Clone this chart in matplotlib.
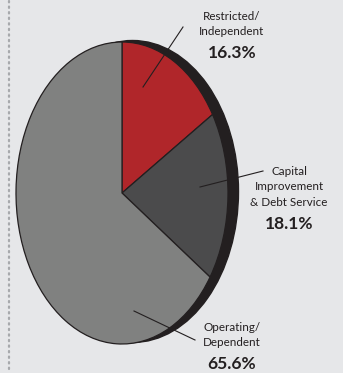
import matplotlib
matplotlib.use('Agg')
import matplotlib.pyplot as plt
from matplotlib.patches import Ellipse

# budget split, clockwise from 12 o'clock
labels = ['Restricted/\nIndependent', 'Capital\nImprovement\n& Debt Service', 'Operating/\nDependent']
shares = [16.3, 18.1, 65.6]
colors = ['#b0262a', '#4b4b4c', '#808180']

bg = '#e6e7e9'
ink = '#231f20'
W, H = 343, 373

fig = plt.figure(figsize=(W / 100, H / 100), dpi=100, facecolor=bg)

# pie axes: unit radius maps to 106 px across and 151 px tall
cx, cy, rx, ry = 122, 193, 106, 151
ax = fig.add_axes([0, 0, 1, 1])
ax.pie(shares, colors=colors, startangle=90, counterclock=False, radius=1,
       wedgeprops=dict(edgecolor=ink, linewidth=0.9))
ax.set_aspect('auto')
ax.set_xlim(-cx / rx, (W - cx) / rx)
ax.set_ylim(-(H - cy) / ry, cy / ry)
ax.axis('off')

# dark rim behind the face
rim = Ellipse((10.5 / rx, 1.5 / ry), 2, 2, facecolor=ink, edgecolor=ink, zorder=0)
ax.add_patch(rim)

# overlay in pixel coordinates for leaders and labels
ov = fig.add_axes([0, 0, 1, 1], facecolor='none')
ov.set_xlim(0, W)
ov.set_ylim(H, 0)
ov.axis('off')

# dotted rule on the left
ov.plot([9, 9], [1, H], color='#a7a9ac', linewidth=1.6,
        linestyle=(0, (0.6, 1.9)), dash_capstyle='round')

leaders = [((143, 87), (183, 27)),
           ((200, 187), (263, 171)),
           ((134, 311), (195, 340))]
for (x0, y0), (x1, y1) in leaders:
    ov.plot([x0, x1], [y0, y1], color=ink, linewidth=0.8)

label_pos = [(232, 24), (289, 187), (232, 335)]
pct_y = [53, 224, 364]
for lab, val, (tx, ty), py in zip(labels, shares, label_pos, pct_y):
    ov.text(tx, ty, lab, ha='center', va='center', fontsize=8.4,
            family='Lato', color=ink, linespacing=1.45)
    ov.text(tx, py, f'{val:.1f}%', ha='center', va='center', fontsize=12.5,
            family='Lato', fontweight='bold', color=ink)

fig.savefig('out.png', dpi=100, facecolor=bg)
